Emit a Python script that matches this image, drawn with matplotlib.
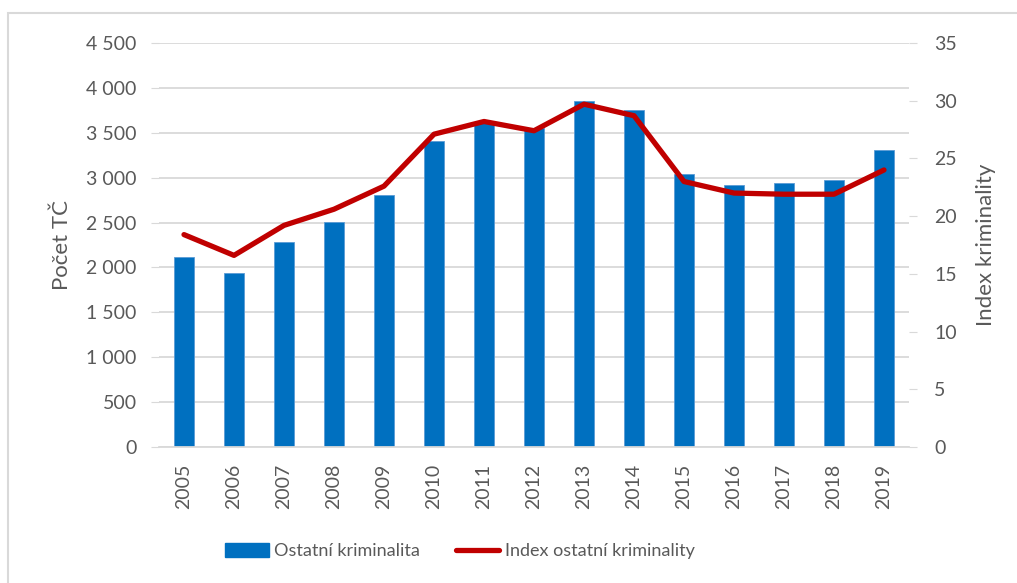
import matplotlib
matplotlib.use("Agg")
import matplotlib.pyplot as plt
from matplotlib.patches import Rectangle
from matplotlib.lines import Line2D
from matplotlib.patches import Patch

years = ["2005", "2006", "2007", "2008", "2009", "2010", "2011", "2012",
         "2013", "2014", "2015", "2016", "2017", "2018", "2019"]
pocet_tc = [2116, 1938, 2283, 2506, 2806, 3408, 3610, 3552,
            3853, 3753, 3040, 2918, 2940, 2973, 3307]
index_krim = [18.4, 16.6, 19.2, 20.6, 22.6, 27.1, 28.2, 27.4,
              29.7, 28.7, 23.0, 22.0, 21.9, 21.9, 24.0]

left_ticks = [0, 500, 1000, 1500, 2000, 2500, 3000, 3500, 4000, 4500]
left_labels = ["0", "500", "1 000", "1 500", "2 000", "2 500", "3 000", "3 500", "4 000", "4 500"]
right_ticks = [0, 5, 10, 15, 20, 25, 30, 35]

plt.rcParams['font.family'] = ['Lato', 'DejaVu Sans']
txt = '#595959'
grid = '#D9D9D9'

W, H = 1017, 583
fig = plt.figure(figsize=(W / 100, H / 100), dpi=100)
fig.patches.append(Rectangle((8 / W, -0.1), 1.2, 1 - 13 / H + 0.1, transform=fig.transFigure,
                             fill=False, edgecolor='#D9D9D9', linewidth=1.5))

ax = fig.add_axes([159 / W, 1 - 447 / H, 750 / W, 404 / H])
x = list(range(len(years)))
ax.bar(x, pocet_tc, width=0.4, color='#0070C0', edgecolor='#5B9BD5', linewidth=0.6, zorder=2)
ax.set_xlim(-0.5, len(years) - 0.5)
ax.set_ylim(0, 4500)
ax.set_yticks(left_ticks)
ax.set_yticklabels(left_labels)
ax.yaxis.grid(True, color=grid, linewidth=1.3)
ax.set_axisbelow(True)
for s in ['top', 'right', 'left']:
    ax.spines[s].set_visible(False)
ax.spines['bottom'].set_color(grid)
ax.spines['bottom'].set_linewidth(1.3)
ax.set_xticks(x)
ax.set_xticklabels(years, rotation=90)
ax.tick_params(axis='x', length=0, pad=12, labelsize=14, labelcolor=txt)
ax.tick_params(axis='y', length=6, color=grid, pad=10, labelsize=14, labelcolor=txt)
ax.set_ylabel("Počet TČ", fontsize=16, color=txt, labelpad=10)

ax2 = ax.twinx()
ax2.plot(x, index_krim, color='#C00000', linewidth=3.8, solid_capstyle='round',
         solid_joinstyle='round', zorder=3)
ax2.set_ylim(0, 35)
ax2.set_yticks(right_ticks)
for s in ax2.spines.values():
    s.set_visible(False)
ax2.tick_params(axis='y', length=6, color=grid, pad=12, labelsize=14, labelcolor=txt)
ax2.set_ylabel("Index kriminality", fontsize=16, color=txt, labelpad=14)

handles = [Patch(facecolor='#0070C0', edgecolor='#0070C0'),
           Line2D([0], [0], color='#C00000', linewidth=3.8, solid_capstyle='round')]
fig.legend(handles, ["Ostatní kriminalita", "Index ostatní kriminality"],
           loc='center', bbox_to_anchor=(460 / W, 1 - 551 / H), ncol=2, frameon=False,
           fontsize=13, labelcolor=txt, handlelength=2.4, handletextpad=0.3,
           columnspacing=2.0, handleheight=0.8)

fig.savefig("out.png", dpi=100)
